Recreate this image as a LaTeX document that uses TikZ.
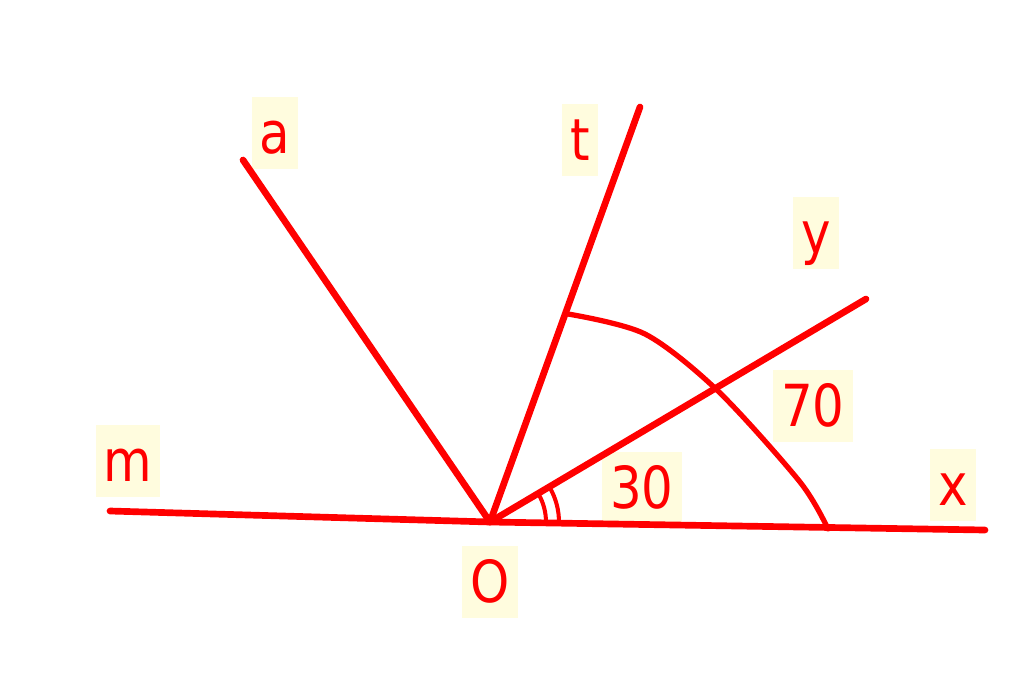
\documentclass[tikz,border=0pt]{standalone}
\usepackage{fontspec}
\setmainfont[FakeStretch=0.86]{DejaVu Sans}
\usetikzlibrary{angles}
\definecolor{tagbg}{RGB}{255,252,222}

\begin{document}
\begin{tikzpicture}[x=0.02cm,y=-0.02cm,
	ray/.style={red,line width=3.8pt,line cap=round,line join=round},
	tag/.style={fill=tagbg,text=red,font=\fontsize{33}{38}\selectfont,inner xsep=0.16cm,inner ysep=0pt,text height=1.12cm,text depth=0.32cm,anchor=base}]
\useasboundingbox (0,0) rectangle (1024,683);
\coordinate (O) at (490,522);
\coordinate (M) at (110,511);
\coordinate (X) at (985,530);
\coordinate (A) at (243,160);
\coordinate (T) at (640,107);
\coordinate (Y) at (866,299);
\coordinate (P) at (568,314);
\coordinate (Q) at (828,529);

\node[tag] (la) at (275,153) {a};
\node[tag] (lt) at (580,160) {t};
\node[tag] (ly) at (816,253) {y};
\node[tag] (lm) at (128,481) {m};
\node[tag] (lx) at (953,505) {x};
\node[tag] (l70) at (813,426) {70};
\node[tag] (l30) at (642,508) {30};
\node[tag] (lO) at (490,602) {O};

\draw[ray] (M) -- (O) -- (X);
\draw[ray] (A) -- (O);
\draw[ray] (T) -- (O);
\draw[ray] (Y) -- (O);
\draw[ray,line width=3pt] plot[smooth] coordinates {(P) (645,334) (718,391) (800,482) (Q)};
\pic[draw=red,line width=2.3pt,angle radius=1.12cm] {angle=X--O--Y};
\pic[draw=red,line width=2.3pt,angle radius=1.38cm] {angle=X--O--Y};
\end{tikzpicture}
\end{document}
